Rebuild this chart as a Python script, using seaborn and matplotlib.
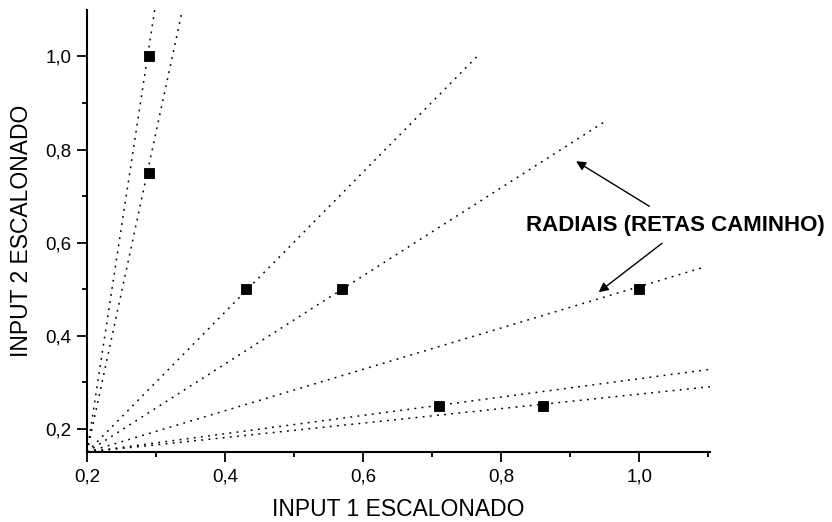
import pandas as pd
import seaborn as sns
import matplotlib.pyplot as plt

# points (scaled inputs)
input1 = [0.29, 0.29, 0.43, 0.57, 0.71, 0.86, 1.0]
input2 = [1.0, 0.75, 0.5, 0.5, 0.25, 0.25, 0.5]

# radial lines: all start at the origin of the scaled space, end points
origin = (0.2, 0.15)
ray_end_x = [0.298, 0.337, 0.765, 0.95, 1.091, 1.119, 1.145]
ray_end_y = [1.10, 1.092, 1.0, 0.86, 0.546, 0.331, 0.297]

x_ticks = [0.2, 0.4, 0.6, 0.8, 1.0]
y_ticks = [0.2, 0.4, 0.6, 0.8, 1.0]

pts = pd.DataFrame({"x": input1, "y": input2})
rows = []
for i, (ex, ey) in enumerate(zip(ray_end_x, ray_end_y)):
    rows.append({"ray": i, "x": origin[0], "y": origin[1]})
    rows.append({"ray": i, "x": ex, "y": ey})
rays = pd.DataFrame(rows)

sns.set_style("ticks", {"axes.edgecolor": "black", "text.color": "black",
                        "axes.labelcolor": "black", "xtick.color": "black",
                        "ytick.color": "black"})
plt.rcParams["font.family"] = ["Liberation Sans", "DejaVu Sans"]

fig = plt.figure(figsize=(8.32, 5.22), dpi=100)
ax = fig.add_axes([0.1046, 0.134, 0.7484, 0.847])

sns.lineplot(data=rays, x="x", y="y", units="ray", estimator=None, sort=False,
             color="black", linestyle=(0, (1.2, 3.5)), linewidth=1.1, ax=ax)
sns.scatterplot(data=pts, x="x", y="y", marker="s", s=60, color="black",
                edgecolor="black", zorder=3, ax=ax)

ax.set_xlim(0.2, 1.102)
ax.set_ylim(0.15, 1.10)
ax.set_xticks(x_ticks)
ax.set_yticks(y_ticks)
ax.set_xticks([0.3, 0.5, 0.7, 0.9, 1.1], minor=True)
ax.set_yticks([0.3, 0.5, 0.7, 0.9], minor=True)
ax.set_xticklabels([f"{v:.1f}".replace(".", ",") for v in x_ticks], fontsize=13.5)
ax.set_yticklabels([f"{v:.1f}".replace(".", ",") for v in y_ticks], fontsize=13.5)
ax.tick_params(which="major", length=7, width=1.3, direction="out")
ax.tick_params(which="minor", length=3.5, width=1.3, direction="out")
ax.tick_params(axis="x", which="major", pad=5)
ax.tick_params(axis="y", which="major", pad=4)

for s in ["top", "right"]:
    ax.spines[s].set_visible(False)
for s in ["left", "bottom"]:
    ax.spines[s].set_linewidth(1.5)

ax.set_xlabel("INPUT 1 ESCALONADO", fontsize=16.5, labelpad=9)
ax.set_ylabel("INPUT 2 ESCALONADO", fontsize=16.5, labelpad=9)

ax.text(1.052, 0.637, "RADIAIS (RETAS CAMINHO)", fontsize=16, fontweight="bold",
        ha="center", va="center", clip_on=False)
ax.annotate("", xy=(0.905, 0.778), xytext=(1.018, 0.675),
            arrowprops=dict(arrowstyle="-|>", color="black", lw=1.0, mutation_scale=14),
            annotation_clip=False)
ax.annotate("", xy=(0.938, 0.490), xytext=(1.036, 0.602),
            arrowprops=dict(arrowstyle="-|>", color="black", lw=1.0, mutation_scale=14),
            annotation_clip=False)

fig.savefig("out.png", dpi=100)
